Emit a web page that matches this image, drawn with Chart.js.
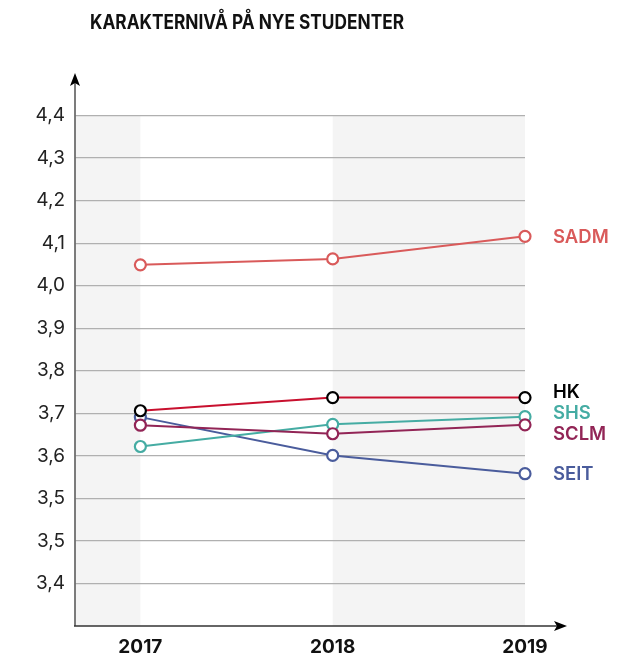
<!DOCTYPE html>
<html>
<head>
<meta charset="utf-8">
<script src="https://cdn.jsdelivr.net/npm/chart.js@4"></script>
<style>
  html, body { margin: 0; padding: 0; background: #fff; }
  #wrap { width: 634px; height: 662px; position: relative; }
</style>
</head>
<body>
<div id="wrap"><canvas id="c" width="634" height="662"></canvas></div>
<script>
// ---- data ----
const title = "KARAKTERNIVÅ PÅ NYE STUDENTER";
const years = [2017, 2018, 2019];
const yearLabels = ["2017", "2018", "2019"];
const seriesNames = ["HK", "SCLM", "SHS", "SEIT", "SADM"];
const hk   = [3.706, 3.737, 3.737];
const sclm = [3.672, 3.652, 3.673];
const shs  = [3.622, 3.674, 3.692];
const seit = [3.691, 3.601, 3.558];
const sadm = [4.049, 4.063, 4.116];
const tickValues = [3.3, 3.4, 3.5, 3.6, 3.7, 3.8, 3.9, 4.0, 4.1, 4.2, 4.3, 4.4];
const tickLabels = ["3,4", "3,5", "3,5", "3,6", "3,7", "3,8", "3,9", "4,0", "4,1", "4,2", "4,3", "4,4"];

// ---- styles ----
const seriesValues = [hk, sclm, shs, seit, sadm];
const lineColors  = ["#c8102e", "#922556", "#45aca3", "#4a5c9c", "#d95a5a"];
const pointColors = ["#000000", "#922556", "#45aca3", "#4a5c9c", "#d95a5a"];
const labelColors = ["#000000", "#922556", "#45aca3", "#4a5c9c", "#d95a5a"];
const labelNudge  = [-5, 10, -3, 1, 1];
const FONT = "Inter, 'Liberation Sans', sans-serif";

const datasets = seriesNames.map((n, i) => ({
  label: n,
  data: years.map((yr, j) => ({ x: yr, y: seriesValues[i][j] })),
  borderColor: lineColors[i],
  borderWidth: 2,
  pointBorderColor: pointColors[i],
  pointBackgroundColor: "#ffffff",
  pointBorderWidth: 2.2,
  pointRadius: 5.5,
  pointHoverRadius: 5.5,
  tension: 0,
  clip: false
}));

function arrowHead(ctx, tx, ty, dir) {
  ctx.save();
  ctx.fillStyle = "#000";
  ctx.beginPath();
  if (dir === "up") {
    ctx.moveTo(tx, ty);
    ctx.lineTo(tx + 5, ty + 13);
    ctx.lineTo(tx, ty + 10);
    ctx.lineTo(tx - 5, ty + 13);
  } else {
    ctx.moveTo(tx, ty);
    ctx.lineTo(tx - 13, ty + 5);
    ctx.lineTo(tx - 10, ty);
    ctx.lineTo(tx - 13, ty - 5);
  }
  ctx.closePath();
  ctx.fill();
  ctx.restore();
}

const decor = {
  id: "decor",
  beforeDraw(chart) {
    const { ctx, chartArea: a, scales: { x, y } } = chart;
    ctx.save();
    ctx.fillStyle = "#ffffff";
    ctx.fillRect(0, 0, chart.width, chart.height);
    ctx.fillStyle = "#f4f4f4";
    const top = y.getPixelForValue(tickValues[tickValues.length - 1]);
    const x0 = x.getPixelForValue(years[0]);
    const x1 = x.getPixelForValue(years[1]);
    const x2 = x.getPixelForValue(years[2]);
    ctx.fillRect(a.left, top, x0 - a.left, a.bottom - top);
    ctx.fillRect(x1, top, x2 - x1, a.bottom - top);
    ctx.restore();
  },
  afterDatasetsDraw(chart) {
    const { ctx, chartArea: a, scales: { x, y } } = chart;
    ctx.save();
    // y axis
    ctx.strokeStyle = "#6e6e6e";
    ctx.lineWidth = 1.8;
    ctx.beginPath();
    ctx.moveTo(a.left, a.bottom);
    ctx.lineTo(a.left, a.top + 8);
    ctx.stroke();
    arrowHead(ctx, a.left, a.top, "up");
    // x axis
    ctx.strokeStyle = "#333333";
    ctx.lineWidth = 1.6;
    ctx.beginPath();
    ctx.moveTo(a.left - 1, a.bottom);
    ctx.lineTo(a.right + 34, a.bottom);
    ctx.stroke();
    arrowHead(ctx, a.right + 42, a.bottom, "right");

    // series labels
    ctx.font = "600 18.5px " + FONT;
    ctx.textAlign = "left";
    ctx.textBaseline = "middle";
    seriesNames.forEach((n, i) => {
      const v = seriesValues[i][seriesValues[i].length - 1];
      const py = y.getPixelForValue(v) + labelNudge[i];
      ctx.fillStyle = labelColors[i];
      ctx.fillText(n, a.right + 28, py);
    });

    // title (slightly condensed to match the original typeface width)
    ctx.font = "700 19.5px " + FONT;
    ctx.fillStyle = "#111";
    ctx.textAlign = "center";
    ctx.textBaseline = "alphabetic";
    const w = ctx.measureText(title).width;
    const sx = 314 / w;
    ctx.translate(247, 29);
    ctx.scale(sx, 1);
    ctx.fillText(title, 0, 0);
    ctx.restore();
  }
};

new Chart(document.getElementById("c"), {
  type: "line",
  data: { datasets },
  options: {
    responsive: false,
    animation: false,
    events: [],
    layout: { padding: { top: 73, right: 109, left: 0, bottom: 0 } },
    plugins: { legend: { display: false }, tooltip: { enabled: false }, title: { display: false } },
    scales: {
      x: {
        type: "linear",
        min: 2016.66,
        max: 2019,
        afterBuildTicks(s) { s.ticks = years.map(v => ({ value: v })); },
        afterFit(s) { s.height = 36; },
        grid: { display: false, drawTicks: false },
        border: { display: false },
        ticks: {
          padding: 10,
          color: "#111",
          font: { family: FONT, size: 19, weight: "700" },
          callback: (v) => yearLabels[years.indexOf(v)] ?? ""
        }
      },
      y: {
        type: "linear",
        min: 3.2,
        max: 4.5,
        afterBuildTicks(s) { s.ticks = tickValues.map(v => ({ value: v })); },
        afterFit(s) { s.width = 75; },
        grid: { color: "#b0b0b0", lineWidth: 1.3, drawTicks: false },
        border: { display: false },
        ticks: {
          padding: 10,
          color: "#222",
          font: { family: FONT, size: 19, weight: "400" },
          callback: (v) => {
            const i = tickValues.findIndex(t => Math.abs(t - v) < 1e-6);
            return i >= 0 ? tickLabels[i] : "";
          }
        }
      }
    }
  },
  plugins: [decor]
});
</script>
</body>
</html>
